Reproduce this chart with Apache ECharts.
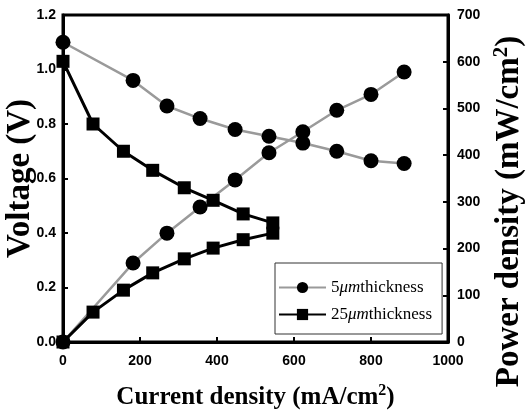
<!DOCTYPE html>
<html><head><meta charset="utf-8">
<script src="https://cdn.jsdelivr.net/npm/echarts@6/dist/echarts.min.js"></script>
<style>html,body{margin:0;padding:0;background:#fff}#c{width:531px;height:416px}</style>
</head><body><div id="c"></div>
<script>
// 5 µm thickness
const current5 = [0, 182, 270, 356, 447, 535, 623, 711, 800, 886];
const voltage5 = [1.10, 0.96, 0.866, 0.82, 0.78, 0.755, 0.73, 0.70, 0.665, 0.655];
const power5   = [0, 169, 233, 289, 347, 405, 450, 496, 530, 578];
// 25 µm thickness
const current25 = [0, 78, 157, 233, 315, 390, 468, 545];
const voltage25 = [1.03, 0.80, 0.70, 0.63, 0.566, 0.52, 0.47, 0.437];
const power25   = [0, 64, 111, 148, 178, 201, 219, 233];

const xTicks = [0, 200, 400, 600, 800, 1000];
const vTicks = [0.0, 0.2, 0.4, 0.6, 0.8, 1.0, 1.2];
const pTicks = [0, 100, 200, 300, 400, 500, 600, 700];

const name5 = '5μmthickness';
const name25 = '25μmthickness';

const pair = (xs, ys) => xs.map((x, i) => [x, ys[i]]);

const chart = echarts.init(document.getElementById('c'));
const labelFont = {fontFamily: 'Liberation Sans', fontWeight: 'bold', fontSize: 14, color: '#000'};
const titleRich = {
  t: {fontFamily: 'Liberation Serif', fontWeight: 'bold', fontSize: 33, color: '#000', lineHeight: 36},
  s: {fontFamily: 'Liberation Serif', fontWeight: 'bold', fontSize: 21, color: '#000', lineHeight: 20, verticalAlign: 'top'}
};
const xTitleRich = {
  t: {fontFamily: 'Liberation Serif', fontWeight: 'bold', fontSize: 25, color: '#000', lineHeight: 30},
  s: {fontFamily: 'Liberation Serif', fontWeight: 'bold', fontSize: 16, color: '#000', lineHeight: 16, verticalAlign: 'top'}
};
const axisLine = {show: true, onZero: false, lineStyle: {color: '#000', width: 3}};
const axisTick = {show: true, inside: true, length: 5, lineStyle: {color: '#000', width: 2}};

const gray = '#9a9a9a';
const lineSeries = (name, xs, ys, yIdx, symbol, size, color, width) => ({
  name, type: 'line', yAxisIndex: yIdx, data: pair(xs, ys),
  symbol, symbolSize: size, showSymbol: true,
  itemStyle: {color: '#000'},
  lineStyle: {color, width},
  z: symbol === 'circle' ? 3 : 4
});

chart.setOption({
  animation: false,
  grid: {left: 63, right: 83, top: 15, bottom: 74, containLabel: false, outerBoundsMode: 'none',
         show: true, borderColor: '#000', borderWidth: 3},
  xAxis: {
    type: 'value', min: 0, max: 1000, interval: 200,
    axisLine, axisTick, splitLine: {show: false},
    axisLabel: Object.assign({margin: 12, formatter: v => xTicks.includes(v) ? String(v) : ''}, labelFont),
    name: '{t|Current density (mA/cm}{s|2}{t|)}',
    nameLocation: 'middle', nameGap: 41, nameMoveOverlap: false,
    nameTextStyle: {rich: xTitleRich}
  },
  yAxis: [{
    type: 'value', min: 0, max: 1.2, interval: 0.2,
    axisLine, axisTick, splitLine: {show: false},
    axisLabel: Object.assign({margin: 7, formatter: v => vTicks.find(t => Math.abs(t - v) < 1e-6) !== undefined ? v.toFixed(1) : ''}, labelFont),
    name: '{t|Voltage (V)}', nameLocation: 'middle', nameGap: 25, nameMoveOverlap: false,
    nameTextStyle: {rich: titleRich}
  }, {
    type: 'value', min: 0, max: 700, interval: 100, position: 'right',
    axisLine, axisTick, splitLine: {show: false},
    axisLabel: Object.assign({margin: 9, formatter: v => pTicks.includes(v) ? String(v) : ''}, labelFont),
    name: '{t|Power density (mW/cm}{s|2}{t|)}', nameLocation: 'middle', nameGap: 43, nameMoveOverlap: false,
    nameTextStyle: {rich: titleRich, padding: [0, 66, 0, 0]}
  }],
  legend: {
    orient: 'vertical', left: 275, top: 263,
    itemWidth: 47, itemHeight: 14, itemGap: 10,
    padding: [16, 10, 11, 3],
    borderColor: '#333', borderWidth: 1, backgroundColor: '#fff',
    data: [name5, name25],
    formatter: n => n.replace('μm', '{i|μm}').replace(/^(\d+)/, '{n|$1}').replace('thickness', '{n|thickness}'),
    textStyle: {
      fontFamily: 'Liberation Serif', fontSize: 17, color: '#000',
      rich: {
        n: {fontFamily: 'Liberation Serif', fontSize: 17, color: '#000'},
        i: {fontFamily: 'Liberation Serif', fontSize: 17, fontStyle: 'italic', color: '#000'}
      }
    }
  },
  series: [
    lineSeries(name5, current5, voltage5, 0, 'circle', 15, gray, 2.5),
    lineSeries(name5, current5, power5, 1, 'circle', 15, gray, 2.5),
    lineSeries(name25, current25, voltage25, 0, 'rect', 13, '#000', 3),
    lineSeries(name25, current25, power25, 1, 'rect', 13, '#000', 3)
  ]
});
</script>
</body></html>
